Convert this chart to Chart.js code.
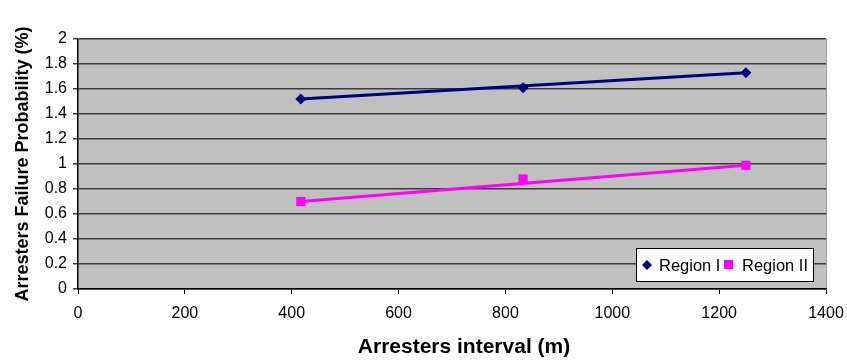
<!DOCTYPE html>
<html>
<head>
<meta charset="utf-8">
<script src="https://cdn.jsdelivr.net/npm/chart.js@4/dist/chart.umd.min.js"></script>
<style>
html,body{margin:0;padding:0;background:#fff;}
#wrap{position:relative;width:847px;height:361px;}
</style>
</head>
<body>
<div id="wrap"><canvas id="c" width="847" height="361"></canvas></div>
<script>
const intervals = [417, 833, 1250];
const regionI = [1.52, 1.61, 1.73];
const regionII = [0.70, 0.88, 0.99];
const trendX = [417, 1250];
const trendI = [1.52, 1.73];
const trendII = [0.70, 0.99];
const seriesNames = ['Region I', 'Region II'];
const xTitle = 'Arresters interval (m)';
const yTitle = 'Arresters Failure Probability (%)';
const xTicks = [0, 200, 400, 600, 800, 1000, 1200, 1400];
const yTicks = [0, 0.2, 0.4, 0.6, 0.8, 1, 1.2, 1.4, 1.6, 1.8, 2];

const BLUE = '#000080', MAG = '#FF00FF';
const FONT = '"Liberation Sans", Arial, sans-serif';
const toPts = (xs, ys) => xs.map((x, i) => ({x, y: ys[i]}));

const plotBg = {
  id: 'plotBg',
  beforeDraw(chart) {
    const {ctx, chartArea: a} = chart;
    ctx.save();
    ctx.fillStyle = '#C0C0C0';
    ctx.fillRect(a.left, a.top, a.right - a.left, a.bottom - a.top);
    ctx.strokeStyle = '#9a9a9a';
    ctx.lineWidth = 1;
    ctx.beginPath();
    ctx.moveTo(a.right + 0.5, a.top);
    ctx.lineTo(a.right + 0.5, a.bottom);
    ctx.stroke();
    ctx.restore();
  }
};

const extras = {
  id: 'extras',
  afterDraw(chart) {
    const {ctx} = chart;
    ctx.save();
    // x axis title
    ctx.font = 'bold 21px ' + FONT;
    ctx.fillStyle = '#000';
    ctx.textAlign = 'center';
    ctx.textBaseline = 'middle';
    ctx.fillText(xTitle, 464, 347);
    // legend box
    ctx.textAlign = 'left';
    const x0 = 636, y0 = 248, w = 177, h = 33;
    ctx.fillStyle = '#fff';
    ctx.fillRect(x0, y0, w, h);
    ctx.strokeStyle = '#000';
    ctx.lineWidth = 1;
    ctx.strokeRect(x0 + 0.5, y0 + 0.5, w, h);
    const cy = y0 + h / 2 + 0.5;
    ctx.font = '16.5px ' + FONT;
    ctx.fillStyle = BLUE;
    ctx.beginPath();
    ctx.moveTo(647, cy - 5); ctx.lineTo(652, cy); ctx.lineTo(647, cy + 5); ctx.lineTo(642, cy);
    ctx.closePath(); ctx.fill();
    ctx.fillStyle = '#000';
    ctx.fillText(seriesNames[0], 659, cy + 1);
    ctx.fillStyle = MAG;
    ctx.fillRect(724, cy - 5, 9, 9);
    ctx.fillStyle = '#000';
    ctx.fillText(seriesNames[1], 742, cy + 1);
    ctx.restore();
  }
};

new Chart(document.getElementById('c'), {
  type: 'scatter',
  data: {
    datasets: [
      {label: seriesNames[0] + ' trend', data: toPts(trendX, trendI), showLine: true, borderColor: BLUE, borderWidth: 3, pointRadius: 0, fill: false},
      {label: seriesNames[1] + ' trend', data: toPts(trendX, trendII), showLine: true, borderColor: MAG, borderWidth: 3, pointRadius: 0, fill: false},
      {label: seriesNames[0], data: toPts(intervals, regionI), showLine: false, pointStyle: 'rectRot', pointRadius: 5.5, backgroundColor: BLUE, borderColor: BLUE, borderWidth: 0},
      {label: seriesNames[1], data: toPts(intervals, regionII), showLine: false, pointStyle: 'rect', pointRadius: 6.5, backgroundColor: MAG, borderColor: MAG, borderWidth: 0}
    ]
  },
  options: {
    responsive: false,
    animation: false,
    layout: {padding: {top: 39, right: 21, left: 0, bottom: 0}},
    plugins: {legend: {display: false}, tooltip: {enabled: false}},
    scales: {
      x: {
        type: 'linear', min: 0, max: 1400,
        afterBuildTicks(s) { s.ticks = xTicks.map(v => ({value: v})); },
        afterFit(s) { s.height = 72; s.paddingRight = 0; s.paddingLeft = 0; },
        grid: {drawOnChartArea: false, drawTicks: true, tickLength: 5, color: '#000', lineWidth: 1},
        border: {display: true, color: '#000', width: 1.5},
        ticks: {color: '#000', padding: 10, maxRotation: 0, autoSkip: false, callback: v => String(v), font: {family: FONT, size: 16}},
        title: {display: false}
      },
      y: {
        type: 'linear', min: 0, max: 2,
        afterBuildTicks(s) { s.ticks = yTicks.map(v => ({value: v})); },
        afterFit(s) { s.width = 78; },
        grid: {drawOnChartArea: true, drawTicks: true, tickLength: 5, color: '#3c3c3c', lineWidth: 1.5},
        border: {display: true, color: '#000', width: 1.5},
        ticks: {color: '#000', padding: 6, autoSkip: false, callback: v => String(Math.round(v * 10) / 10), font: {family: FONT, size: 16}},
        title: {display: true, text: yTitle, color: '#000', padding: {top: 12, bottom: 2}, font: {family: FONT, size: 18, weight: 'bold'}}
      }
    }
  },
  plugins: [plotBg, extras]
});
</script>
</body>
</html>
